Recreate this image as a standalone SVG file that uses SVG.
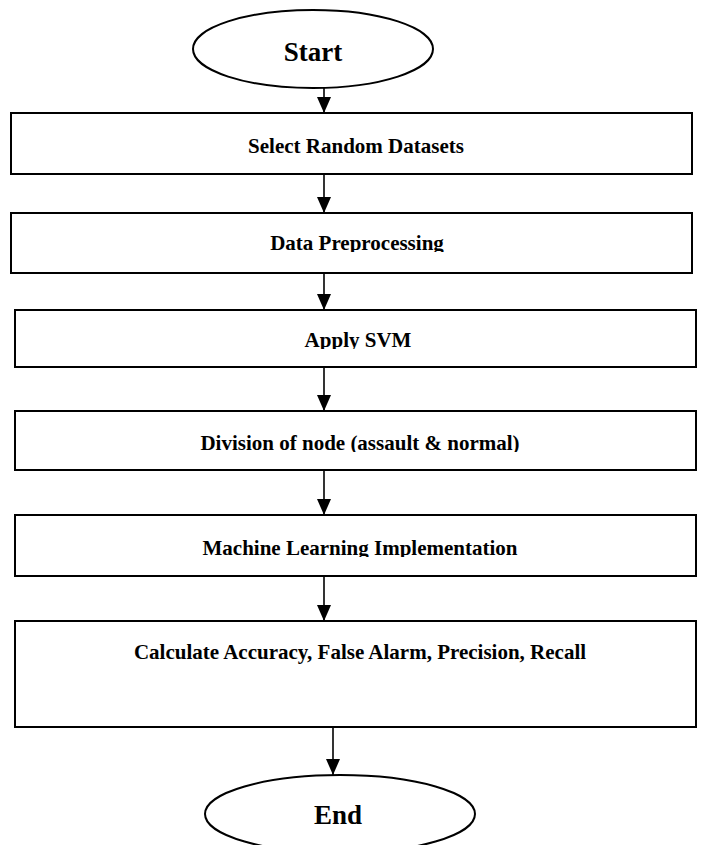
<svg xmlns="http://www.w3.org/2000/svg" width="702" height="845" viewBox="0 0 702 845">
<style>
.shape{fill:#fff;stroke:#000;stroke-width:2}
.lbl{font-family:"Liberation Serif","Times New Roman",serif;font-weight:bold;font-size:21px;fill:#000;text-anchor:middle}
.term{font-size:27px}
.conn{stroke:#000;stroke-width:1.6;fill:none;marker-end:url(#ah)}
</style>
<defs>
<marker id="ah" markerUnits="userSpaceOnUse" markerWidth="16" markerHeight="14" refX="16" refY="7" orient="auto" viewBox="0 0 16 14">
<path d="M0,0 L16,7 L0,14 Z" fill="#000"/>
</marker>
<clipPath id="c2"><rect x="0" y="200" width="702" height="52"/></clipPath>
<clipPath id="c3"><rect x="0" y="300" width="702" height="49"/></clipPath>
<clipPath id="c4"><rect x="0" y="400" width="702" height="52"/></clipPath>
<clipPath id="c5"><rect x="0" y="500" width="702" height="57"/></clipPath>
</defs>
<g id="connectors">
<line class="conn" x1="324" y1="88" x2="324" y2="113"/>
<line class="conn" x1="324" y1="174" x2="324" y2="213"/>
<line class="conn" x1="324" y1="273" x2="324" y2="310"/>
<line class="conn" x1="324" y1="367" x2="324" y2="411"/>
<line class="conn" x1="324" y1="470" x2="324" y2="515"/>
<line class="conn" x1="324" y1="576" x2="324" y2="621"/>
<line class="conn" x1="333" y1="727" x2="333" y2="775"/>
</g>
<g id="start">
<ellipse class="shape" cx="313" cy="49" rx="120" ry="39"/>
<text class="lbl term" x="313" y="61">Start</text>
</g>
<g id="select">
<rect class="shape" x="11" y="113" width="681" height="61"/>
<text class="lbl" x="356" y="153">Select Random Datasets</text>
</g>
<g id="preprocess">
<rect class="shape" x="11" y="213" width="681" height="60"/>
<text class="lbl" x="357" y="250" clip-path="url(#c2)">Data Preprocessing</text>
</g>
<g id="svm">
<rect class="shape" x="15" y="310" width="681" height="57"/>
<text class="lbl" x="358" y="347" clip-path="url(#c3)">Apply SVM</text>
</g>
<g id="division">
<rect class="shape" x="15" y="411" width="681" height="59"/>
<text class="lbl" x="360" y="450" clip-path="url(#c4)">Division of node (assault &amp; normal)</text>
</g>
<g id="ml">
<rect class="shape" x="15" y="515" width="681" height="61"/>
<text class="lbl" x="360" y="555" clip-path="url(#c5)">Machine Learning Implementation</text>
</g>
<g id="calc">
<rect class="shape" x="15" y="621" width="681" height="106"/>
<text class="lbl" x="360" y="659">Calculate Accuracy, False Alarm, Precision, Recall</text>
</g>
<g id="end">
<ellipse class="shape" cx="340" cy="814" rx="135" ry="39"/>
<text class="lbl term" x="338" y="824">End</text>
</g>
</svg>
